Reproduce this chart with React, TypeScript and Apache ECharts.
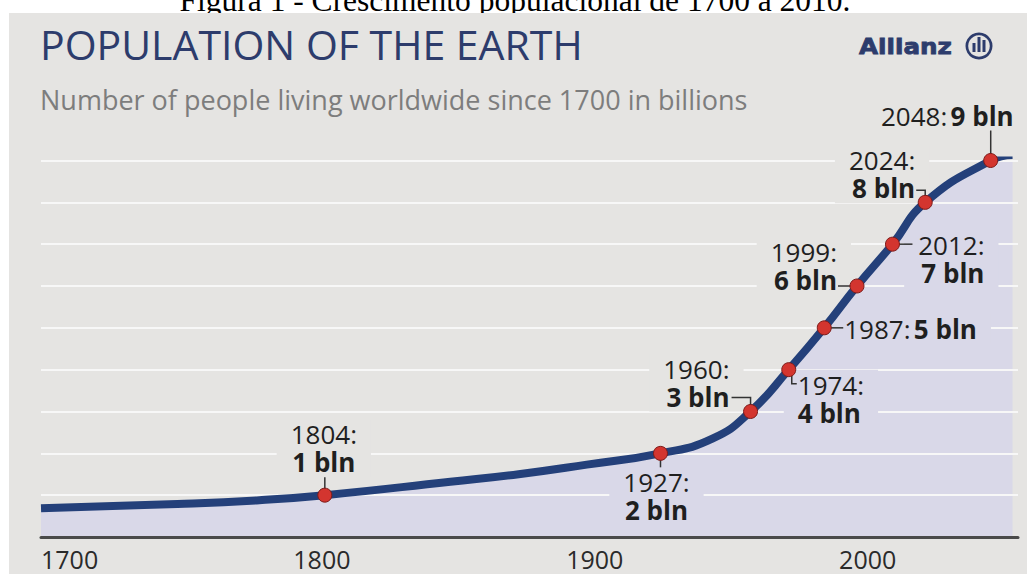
import { useEffect, useRef } from 'react';
import * as echarts from 'echarts';

// World population in billions, sampled along the curve
const curveYears = [1700, 1750, 1780, 1804, 1850, 1875, 1900, 1927, 1946, 1960, 1974, 1987, 1999, 2012, 2024, 2048, 2056];
const curveBillions = [0.69, 0.79, 0.88, 1, 1.32, 1.5, 1.73, 2, 2.35, 3, 4, 5, 6, 7, 8, 9, 9.13];

// Year in which each further billion was (or will be) reached
const milestoneYears = [1804, 1927, 1960, 1974, 1987, 1999, 2012, 2024, 2048];
const milestoneBillions = [1, 2, 3, 4, 5, 6, 7, 8, 9];

const xTickLabels = [1700, 1800, 1900, 2000];

const CAPTION = 'Figura 1 - Crescimento populacional de 1700 a 2010.';
const TITLE = 'POPULATION OF THE EARTH';
const SUBTITLE = 'Number of people living worldwide since 1700 in billions';
const BRAND = 'Allianz';

const PANEL = '#e5e4e2';
const FILL = '#d9d8e8';
const GRID = '#f7f7f7';
const NAVY = '#24407a';
const TITLE_NAVY = '#2d3c6c';
const RED = '#d3352f';
const INK = '#1f1f1f';
const SANS = '"Open Sans", "Noto Sans", sans-serif';
const LABEL_PAD = 14;

type Placement = {
  align: 'left' | 'right' | 'center';
  dx: number;
  dy: number;
  oneLine?: boolean;
  inFill: boolean;
  leader: number[][];
};

// Where each milestone annotation's text sits relative to its marker (pixels)
const placements: Placement[] = [
  { align: 'center', dx: -1, dy: -47, inFill: false, leader: [[0, -18], [0, 0]] },
  { align: 'center', dx: -4, dy: 43, inFill: true, leader: [[0, 0], [0, 14]] },
  { align: 'right', dx: -21, dy: -29, inFill: false, leader: [[-19, -14], [0, -14], [0, 0]] },
  { align: 'left', dx: 9, dy: 29, inFill: true, leader: [[3, 0], [3, 14], [8, 14]] },
  { align: 'left', dx: 20, dy: 1, oneLine: true, inFill: true, leader: [[0, 0], [19, 0]] },
  { align: 'right', dx: -20, dy: -20, inFill: false, leader: [[-19, 0], [0, 0]] },
  { align: 'right', dx: 92, dy: 15, inFill: true, leader: [[0, 0], [20, 0]] },
  { align: 'right', dx: -10, dy: -28, inFill: false, leader: [[-9, -12], [0, -12], [0, 0]] },
  { align: 'right', dx: 23, dy: -45, oneLine: true, inFill: false, leader: [[0, -30], [0, 0]] },
];

export default function App() {
  const ref = useRef<HTMLDivElement>(null);

  useEffect(() => {
    const el = ref.current;
    if (!el) return;
    const chart = echarts.init(el, null, { renderer: 'svg' });

    const curve = curveYears.map((y, i) => [y, curveBillions[i]]);
    const milestones = milestoneYears.map((y, i) => [y, milestoneBillions[i]]);

    const tickFont = { fontFamily: SANS, fontSize: 25, color: '#2a2a2a' };

    chart.setOption({
      animation: false,
      backgroundColor: '#ffffff',
      grid: { left: 41, top: 160.5, width: 977, height: 376.5 },
      xAxis: {
        type: 'value',
        min: 1700,
        max: 2058,
        interval: 100,
        z: 4,
        axisLine: { show: true, lineStyle: { color: '#4a4a4a', width: 3 } },
        axisTick: { show: false },
        splitLine: { show: false },
        axisLabel: {
          margin: 9,
          alignMinLabel: 'left',
          formatter: (v: number) => {
            if (!xTickLabels.includes(v)) return '';
            return v === xTickLabels[0] ? `{first|${v}}` : `{t|${v}}`;
          },
          rich: {
            first: tickFont,
            t: { ...tickFont, padding: [0, 0, 0, 16] },
          },
        },
      },
      yAxis: {
        type: 'value',
        min: 0,
        max: 9,
        interval: 1,
        z: 2,
        axisLine: { show: false },
        axisTick: { show: false },
        axisLabel: { show: false },
        splitLine: { show: true, lineStyle: { color: GRID, width: 2 } },
      },
      series: [
        {
          type: 'line',
          data: curve,
          smooth: 0.5,
          symbol: 'none',
          lineStyle: { width: 0, opacity: 0 },
          areaStyle: { color: FILL, opacity: 1 },
          z: 1,
          silent: true,
        },
        {
          type: 'line',
          data: curve,
          smooth: 0.5,
          symbol: 'none',
          lineStyle: { color: NAVY, width: 8, cap: 'butt' },
          z: 5,
          silent: true,
        },
        {
          type: 'scatter',
          data: milestones,
          symbol: 'circle',
          symbolSize: 14,
          itemStyle: { color: RED, borderColor: '#7d1c1a', borderWidth: 1, opacity: 1 },
          z: 6,
          silent: true,
        },
      ],
    });

    const graphics: any[] = [
      {
        type: 'text',
        x: 515,
        y: 0,
        z: 0,
        style: {
          text: CAPTION,
          fontFamily: '"Liberation Serif", "Times New Roman", serif',
          fontSize: 31.5,
          fill: '#000000',
          align: 'center',
          verticalAlign: 'middle',
        },
      },
      {
        type: 'rect',
        z: 0,
        z2: 1,
        shape: { x: 9, y: 13, width: 1018, height: 561 },
        style: { fill: PANEL },
      },
      {
        type: 'text',
        x: 40,
        y: 44,
        z: 1,
        style: { text: TITLE, fontFamily: SANS, fontSize: 41, fill: TITLE_NAVY, align: 'left', verticalAlign: 'middle' },
      },
      {
        type: 'text',
        x: 40,
        y: 99.5,
        z: 1,
        style: { text: SUBTITLE, fontFamily: SANS, fontSize: 27, fill: '#7d7d7d', align: 'left', verticalAlign: 'middle' },
      },
      {
        type: 'text',
        x: 859,
        y: 46,
        z: 1,
        scaleX: 1.12,
        style: {
          text: BRAND,
          fontFamily: '"DejaVu Sans", sans-serif',
          fontWeight: 'bold',
          fontSize: 22,
          fill: TITLE_NAVY,
          stroke: TITLE_NAVY,
          lineWidth: 0.8,
          align: 'left',
          verticalAlign: 'middle',
        },
      },
      { type: 'ring', z: 1, shape: { cx: 979, cy: 46, r: 13.5, r0: 10.8 }, style: { fill: TITLE_NAVY } },
      { type: 'rect', z: 1, shape: { x: 972.5, y: 43, width: 3, height: 9 }, style: { fill: TITLE_NAVY } },
      { type: 'rect', z: 1, shape: { x: 977.5, y: 37, width: 3, height: 15 }, style: { fill: TITLE_NAVY } },
      { type: 'rect', z: 1, shape: { x: 982.5, y: 40, width: 3, height: 12 }, style: { fill: TITLE_NAVY } },
    ];

    milestones.forEach((pt, i) => {
      const p = chart.convertToPixel({ seriesIndex: 2 }, pt) as number[];
      const place = placements[i];
      const sep = place.oneLine ? ' ' : '\n';
      // the text box carries horizontal padding, so shift the box to keep the glyphs at dx
      const padShift = place.align === 'right' ? LABEL_PAD : place.align === 'left' ? -LABEL_PAD : 0;
      graphics.push({
        type: 'text',
        x: p[0] + place.dx + padShift,
        y: p[1] + place.dy,
        z: 3,
        style: {
          text: `{y|${milestoneYears[i]}:}${sep}{v|${milestoneBillions[i]} bln}`,
          align: place.align,
          verticalAlign: 'middle',
          backgroundColor: place.inFill ? FILL : PANEL,
          padding: [1, LABEL_PAD],
          rich: {
            y: { fontFamily: SANS, fontSize: 26, fill: INK, lineHeight: 28, align: place.align },
            v: { fontFamily: SANS, fontSize: 26, fontWeight: 'bold', fill: INK, lineHeight: 28, align: place.align },
          },
        },
      });
      graphics.push({
        type: 'polyline',
        z: 4,
        shape: { points: place.leader.map(([dx, dy]) => [p[0] + dx, p[1] + dy]) },
        style: { stroke: '#333333', lineWidth: 1.5, fill: 'none' },
      });
    });

    chart.setOption({ graphic: graphics });

    return () => chart.dispose();
  }, []);

  return <div ref={ref} style={{ position: 'absolute', left: 0, top: 0, width: 1027, height: 574 }} />;
}
